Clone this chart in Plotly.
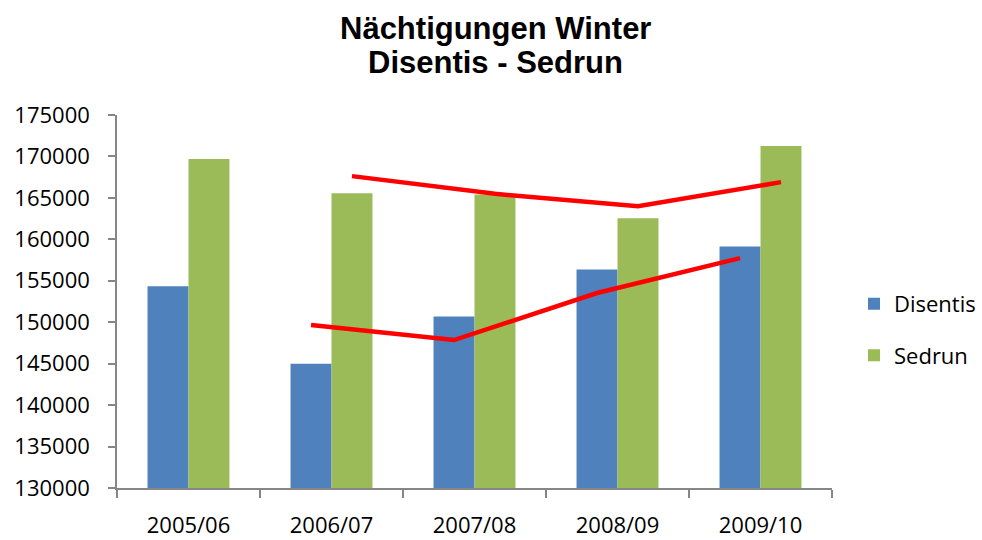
import plotly.graph_objects as go

categories = ["2005/06", "2006/07", "2007/08", "2008/09", "2009/10"]
disentis = [154330, 144990, 150700, 156350, 159130]
sedrun = [169680, 165570, 165410, 162550, 171250]
y_ticks = [130000, 135000, 140000, 145000, 150000, 155000, 160000, 165000, 170000, 175000]
title_lines = ["Nächtigungen Winter", "Disentis - Sedrun"]

BLUE = "#4F81BD"
GREEN = "#9BBB59"
RED = "#FF0000"
AXIS = "#868686"
BARGAP = 0.427
half = (1 - BARGAP) / 4  # offset of each bar centre from category centre


def moving_avg(vals, n=2):
    return [sum(vals[i - n + 1:i + 1]) / n for i in range(n - 1, len(vals))]


fig = go.Figure()
fig.add_trace(go.Bar(x=categories, y=disentis, name="Disentis", marker_color=BLUE,
                     legendgroup="d", marker_line_width=0))
fig.add_trace(go.Bar(x=categories, y=sedrun, name="Sedrun", marker_color=GREEN,
                     legendgroup="s", marker_line_width=0))

idx = list(range(1, len(categories)))
fig.add_trace(go.Scatter(x=[i - half for i in idx], y=moving_avg(disentis), mode="lines",
                         line=dict(color=RED, width=4.5), xaxis="x2", showlegend=False,
                         hoverinfo="skip"))
fig.add_trace(go.Scatter(x=[i + half for i in idx], y=moving_avg(sedrun), mode="lines",
                         line=dict(color=RED, width=4.5), xaxis="x2", showlegend=False,
                         hoverinfo="skip"))

title_font = dict(family="Liberation Sans, Arial", size=31, color="black", weight="bold")
fig.add_annotation(text=title_lines[0], xref="paper", yref="paper", x=0.5287, y=1.2332,
                   xanchor="center", yanchor="middle", showarrow=False, font=title_font)
fig.add_annotation(text=title_lines[1], xref="paper", yref="paper", x=0.5287, y=1.142,
                   xanchor="center", yanchor="middle", showarrow=False, font=title_font)

fig.update_layout(
    width=982, height=540,
    margin=dict(l=117, r=150, t=115, b=52, autoexpand=False),
    paper_bgcolor="white", plot_bgcolor="white",
    barmode="group", bargap=BARGAP, bargroupgap=0,
    font=dict(family="Open Sans", size=22, color="black"),
    xaxis=dict(type="category", showline=True, linecolor=AXIS, linewidth=1.5,
               ticks="outside", tickson="boundaries", ticklen=8, tickcolor=AXIS, tickwidth=1.5,
               showgrid=False, ticklabelstandoff=17, tickfont=dict(size=22), automargin=False),
    xaxis2=dict(overlaying="x", range=[-0.5, len(categories) - 0.5], visible=False),
    yaxis=dict(range=[130000, 175000], tickvals=y_ticks, ticktext=[str(v) for v in y_ticks],
               showline=True, linecolor=AXIS,
               linewidth=1.5, ticks="outside", ticklen=7, tickcolor=AXIS, tickwidth=1.5,
               showgrid=False, zeroline=False, ticklabelstandoff=14, tickfont=dict(size=22),
               automargin=False),
    legend=dict(xref="container", x=854 / 982, xanchor="left", y=0.424, yanchor="middle",
                tracegroupgap=20, font=dict(size=22), bgcolor="rgba(0,0,0,0)"),
    showlegend=True,
)

fig.write_html("out.html", config={"displayModeBar": False},
               post_script="document.body.style.margin='0';")
